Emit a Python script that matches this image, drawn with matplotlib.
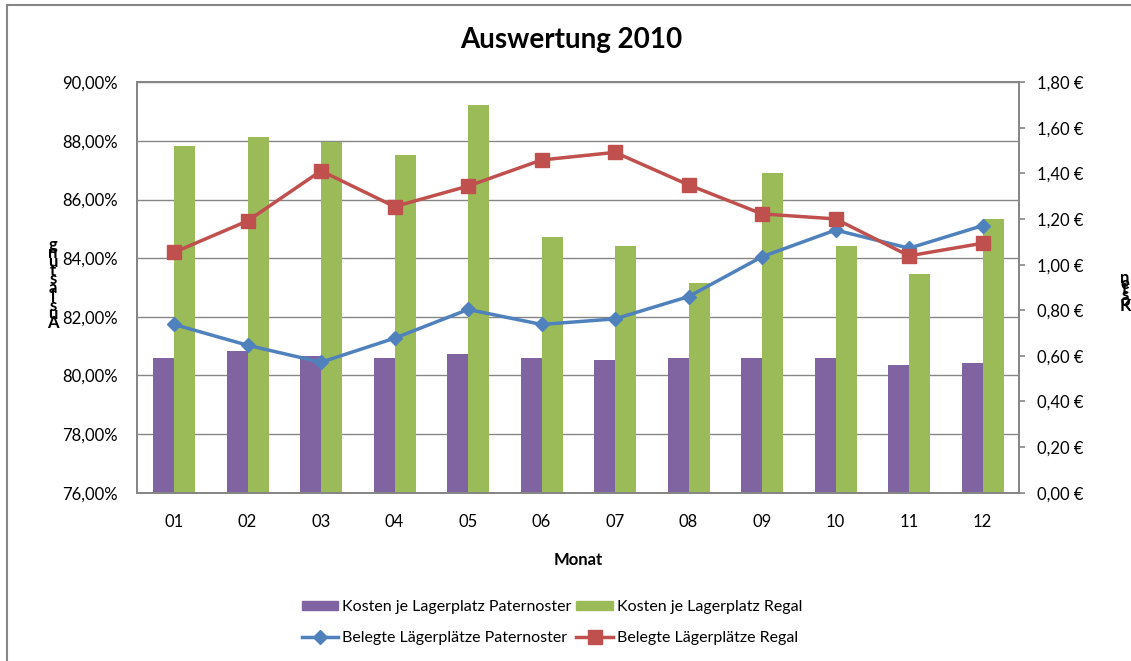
""" Auswertung 2010: Lagerplatz costs (bars) & occupancy rates (lines) """

import numpy as np
import matplotlib.pyplot as plt
from matplotlib.lines import Line2D
from matplotlib.patches import Patch, Rectangle

plt.rcParams['font.family'] = ['Lato', 'DejaVu Sans']


##############################################################################
##                                   Data                                   ##
##############################################################################

months = ["01", "02", "03", "04", "05", "06",
          "07", "08", "09", "10", "11", "12"]

# Costs per storage place [EUR] (right axis)
cost_paternoster = [0.59, 0.62, 0.60, 0.59, 0.61, 0.59,
                    0.58, 0.59, 0.59, 0.59, 0.56, 0.57]
cost_regal = [1.52, 1.56, 1.54, 1.48, 1.70, 1.12,
              1.08, 0.92, 1.40, 1.08, 0.96, 1.20]

# Occupied storage places [%] (left axis)
occ_paternoster = [81.74, 81.03, 80.45, 81.27, 82.25, 81.74,
                   81.93, 82.69, 84.05, 84.96, 84.34, 85.11]
occ_regal = [84.20, 85.27, 86.98, 85.76, 86.46, 87.35,
             87.61, 86.50, 85.51, 85.34, 84.08, 84.51]

PCT_TICKS = np.arange(76, 90.1, 2)
EUR_TICKS = np.arange(0, 1.81, 0.2)

##############################################################################



##############################################################################
##                                  Figure                                  ##
##############################################################################

PURPLE, GREEN, BLUE, RED = '#8064A2', '#9BBB59', '#4F81BD', '#C0504D'
GRAY = '#868686'
W, H = 1131, 661
FS = 12

fig = plt.figure(figsize=(W/100, H/100), dpi=100)

# Outer chart border (cut by the image on the right & bottom)
fig.patches.append(Rectangle((7/W, -0.05), 1.1, 1-5/H+0.05,
    transform=fig.transFigure, fill=False, edgecolor=GRAY, linewidth=1.5))

# Plot area: bars axis below, lines axis on top
ax_bar = fig.add_axes([137.3/W, 1-492.7/H, (1019.3-137.3)/W, (492.7-82.3)/H])
ax_pct = ax_bar.twinx()

xpos = np.arange(len(months))
width = 0.286

# Horizontal gridlines follow the percent axis, behind the bars
for pct in PCT_TICKS:
    ax_bar.axhline((pct-76)/14*1.8, color=GRAY, linewidth=1.0, zorder=0)

ax_bar.bar(xpos-width/2, cost_paternoster, width, color=PURPLE, zorder=2)
ax_bar.bar(xpos+width/2, cost_regal, width, color=GREEN, zorder=2)

ax_pct.plot(xpos, occ_paternoster, color=BLUE, linewidth=2.5,
    marker='D', markersize=7.5, zorder=3)
ax_pct.plot(xpos, occ_regal, color=RED, linewidth=2.5,
    marker='s', markersize=10, zorder=4)

# Axes limits & ticks
ax_bar.set_xlim(-0.5, len(months)-0.5)
ax_bar.set_ylim(0, 1.8)
ax_pct.set_ylim(76, 90)

ax_bar.set_xticks(xpos, months, fontsize=FS)
ax_bar.tick_params(axis='x', length=0, pad=15)

ax_bar.yaxis.tick_right()
ax_bar.set_yticks(EUR_TICKS,
    [f"{v:.2f}\u00a0€".replace('.', ',') for v in EUR_TICKS], fontsize=FS)
ax_bar.tick_params(axis='y', length=4, width=1.2, color=GRAY, pad=9)

ax_pct.yaxis.tick_left()
ax_pct.set_yticks(PCT_TICKS,
    [f"{v:.2f}%".replace('.', ',') for v in PCT_TICKS], fontsize=FS)
ax_pct.tick_params(axis='y', length=0, pad=14)

for axis in (ax_bar, ax_pct):
    for spine in axis.spines.values():
        spine.set_color(GRAY)
        spine.set_linewidth(1.3)

ax_bar.set_xlabel("Monat", fontsize=FS, fontweight='bold', labelpad=16)

# Title
fig.text(571/W, 1-40/H, "Auswertung 2010", fontsize=20, fontweight='bold',
    ha='center', va='center')

# Stacked axis titles (letters piled up bottom to top, on their baselines)
for i, letter in enumerate("Auslastung"):
    fig.text(53/W, 1-(328-8.7*i)/H, letter, fontsize=FS, fontweight='bold',
        ha='center', va='baseline')
for i, letter in enumerate("Kosten"):
    fig.text(1125/W, 1-(311.5-5.7*i)/H, letter, fontsize=FS,
        fontweight='bold', ha='center', va='baseline')

# Legend
handles = [
    Patch(color=PURPLE, label="Kosten je Lagerplatz Paternoster"),
    Line2D([], [], color=BLUE, linewidth=2.5, marker='D', markersize=7.5,
        label="Belegte Lägerplätze Paternoster"),
    Patch(color=GREEN, label="Kosten je Lagerplatz Regal"),
    Line2D([], [], color=RED, linewidth=2.5, marker='s', markersize=10,
        label="Belegte Lägerplätze Regal"),
]
fig.legend(handles=handles, ncol=2, loc='center',
    bbox_to_anchor=(552/W, 1-622.5/H), frameon=False, fontsize=11.5,
    handlelength=2.3, handleheight=0.5, handletextpad=0.25,
    columnspacing=0.3, labelspacing=1.05)

plt.savefig("out.png", dpi=100)
